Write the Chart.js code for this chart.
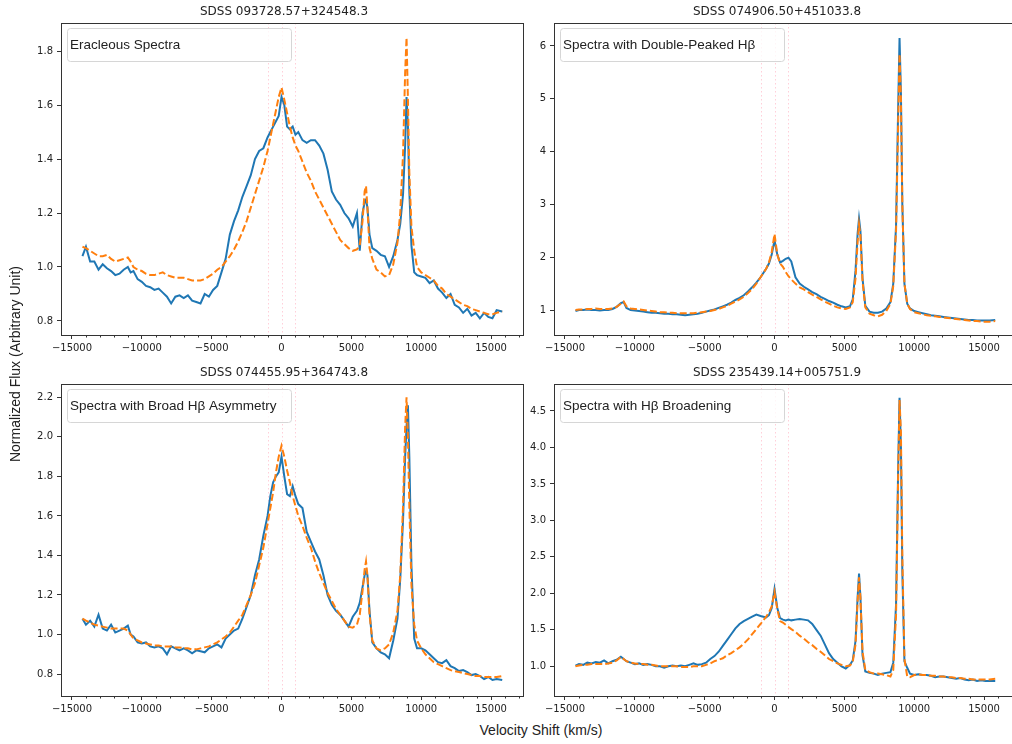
<!DOCTYPE html>
<html>
<head>
<meta charset="utf-8">
<script src="https://cdn.jsdelivr.net/npm/chart.js@4.4.0/dist/chart.umd.min.js"></script>
<style>
    html, body { margin: 0; padding: 0; background: #fff; }
    body { width: 1012px; height: 744px; overflow: hidden; position: relative; }
    canvas { position: absolute; }
    #xLabel { position: absolute; left: 0; width: 1082px; top: 722px; line-height: 20px; text-align: center; font: 14px "Liberation Sans"; color: #222; }
    #yLabel { position: absolute; left: -185px; width: 400px; top: 356px; line-height: 20px; text-align: center; font: 14px "Liberation Sans"; color: #222; transform: rotate(-90deg); }
</style>
</head>
<body>
<canvas id="panel1" width="530" height="360" style="left:0;top:0"></canvas>
<canvas id="panel2" width="530" height="360" style="left:500px;top:0"></canvas>
<canvas id="panel3" width="530" height="360" style="left:0;top:360px"></canvas>
<canvas id="panel4" width="530" height="360" style="left:500px;top:360px"></canvas>
<div id="xLabel">Velocity Shift (km/s)</div>
<div id="yLabel">Normalized Flux (Arbitrary Unit)</div>
<script>
//Velocity grid shared by every spectrum (km/s).
var velocity = [
    -14250, -14000, -13700, -13400, -13100, -12800, -12500, -12200, -11900, -11600,
    -11300, -11000, -10800, -10600, -10300, -10000, -9700, -9400, -9100, -8800,
    -8500, -8200, -7900, -7600, -7300, -7000, -6700, -6400, -6100, -5800,
    -5500, -5200, -4900, -4600, -4300, -4000, -3700, -3400, -3100, -2800,
    -2500, -2200, -1900, -1600, -1300, -1000, -800, -600, -400, -200,
    0, 200, 400, 600, 800, 1000, 1200, 1500, 1800, 2100,
    2400, 2700, 3000, 3300, 3600, 3900, 4200, 4500, 4800, 5100,
    5400, 5600, 5800, 5950, 6050, 6150, 6300, 6500, 6800, 7100,
    7400, 7700, 8000, 8300, 8500, 8700, 8850, 8950, 9050, 9150,
    9300, 9500, 9700, 10000, 10300, 10600, 10900, 11200, 11500, 11800,
    12100, 12400, 12700, 13000, 13300, 13600, 13900, 14200, 14500, 14800,
    15100, 15400, 15800
];

//SDSS 093728.57+324548.3
var observed1 = [
    1.04, 1.075, 1.02, 1.02, 0.99, 1.01, 0.995, 0.985, 0.97, 0.975,
    0.99, 1.0, 0.98, 0.985, 0.955, 0.945, 0.93, 0.925, 0.915, 0.92,
    0.905, 0.89, 0.865, 0.89, 0.895, 0.885, 0.895, 0.875, 0.87, 0.865,
    0.9, 0.89, 0.915, 0.93, 0.98, 1.03, 1.12, 1.17, 1.21, 1.26,
    1.3, 1.34, 1.4, 1.43, 1.44, 1.48, 1.5, 1.52, 1.54, 1.56,
    1.63, 1.6, 1.52, 1.51, 1.52, 1.49, 1.5, 1.47, 1.46, 1.47,
    1.47, 1.45, 1.42, 1.36, 1.28, 1.25, 1.23, 1.2, 1.18, 1.15,
    1.2, 1.06, 1.2, 1.24, 1.25, 1.22, 1.12, 1.07, 1.06, 1.045,
    1.04, 1.0, 1.04, 1.1, 1.16, 1.27, 1.45, 1.63, 1.52, 1.28,
    1.08, 0.98, 0.97, 0.965, 0.96, 0.94, 0.95, 0.92, 0.905, 0.885,
    0.9, 0.86, 0.85, 0.83, 0.845, 0.82, 0.83, 0.81, 0.83, 0.815,
    0.81, 0.84, 0.835
];
var model1 = [
    1.075, 1.07, 1.06, 1.05, 1.04, 1.04, 1.045, 1.03, 1.02, 1.025,
    1.03, 1.035, 1.02, 1.0, 0.99, 0.985, 0.975, 0.97, 0.97, 0.975,
    0.98, 0.97, 0.965, 0.96, 0.96, 0.96, 0.955, 0.95, 0.95, 0.95,
    0.955, 0.965, 0.975, 0.99, 1.0, 1.02, 1.04, 1.065, 1.095, 1.13,
    1.17, 1.22, 1.27, 1.32, 1.37, 1.43, 1.48, 1.53, 1.58, 1.63,
    1.665, 1.62, 1.57, 1.52, 1.48, 1.45, 1.43, 1.39, 1.35, 1.32,
    1.28, 1.25, 1.22, 1.19, 1.16, 1.13, 1.1, 1.085, 1.07, 1.06,
    1.065, 1.08, 1.17, 1.28, 1.3, 1.22, 1.07, 1.03, 0.99, 0.98,
    0.965, 0.97, 1.01, 1.09, 1.2, 1.42, 1.72, 1.85, 1.62, 1.35,
    1.15, 1.06, 1.0, 0.98, 0.97, 0.96, 0.95, 0.93, 0.92, 0.9,
    0.89, 0.88, 0.87, 0.86, 0.855, 0.845, 0.84, 0.835, 0.83, 0.825,
    0.825, 0.83, 0.835
];

//SDSS 074906.50+451033.8
var observed2 = [
    0.98, 1.0, 1.0, 1.01, 1.0, 1.0, 0.99, 1.0, 1.0, 1.02,
    1.06, 1.13, 1.15, 1.04, 1.0, 0.99, 0.98, 0.97, 0.96, 0.95,
    0.95, 0.94, 0.93, 0.93, 0.92, 0.92, 0.91, 0.9, 0.91, 0.92,
    0.93, 0.95, 0.97, 0.99, 1.01, 1.04, 1.07, 1.1, 1.14, 1.19,
    1.23, 1.28, 1.35, 1.43, 1.52, 1.62, 1.7, 1.78, 1.88, 2.05,
    2.32, 2.05, 1.9, 1.93, 1.97, 1.99, 1.92, 1.62, 1.5, 1.44,
    1.39, 1.34, 1.3, 1.25, 1.21, 1.17, 1.14, 1.1, 1.07, 1.05,
    1.07, 1.2, 1.75, 2.45, 2.73, 2.5, 1.6, 1.08, 0.97, 0.95,
    0.95, 0.97, 1.03, 1.15, 1.5, 2.6, 4.8, 6.15, 5.1, 3.0,
    1.5, 1.12, 1.03, 0.98, 0.96, 0.94, 0.92, 0.9, 0.89, 0.88,
    0.87, 0.86, 0.85, 0.84, 0.83, 0.82, 0.81, 0.81, 0.8, 0.8,
    0.8, 0.8, 0.81
];
var model2 = [
    1.0, 1.01, 1.01, 1.02, 1.02, 1.03, 1.02, 1.02, 1.02, 1.03,
    1.06, 1.12, 1.16, 1.07, 1.03, 1.02, 1.01, 1.0, 0.99, 0.98,
    0.97, 0.96, 0.96, 0.95, 0.95, 0.94, 0.94, 0.94, 0.94, 0.94,
    0.95, 0.96, 0.97, 0.98, 1.0, 1.02, 1.05, 1.08, 1.12, 1.16,
    1.2, 1.25, 1.32, 1.4, 1.5, 1.62, 1.7, 1.78, 1.9, 2.1,
    2.44, 2.05, 1.88, 1.82, 1.72, 1.64, 1.58, 1.5, 1.43, 1.39,
    1.34, 1.29, 1.25, 1.2, 1.16, 1.12, 1.08, 1.05, 1.03, 1.02,
    1.05, 1.15, 1.6, 2.3, 2.62, 2.42, 1.55, 1.05, 0.93, 0.9,
    0.88, 0.91, 0.98, 1.12, 1.45, 2.5, 4.5, 5.85, 5.0, 3.0,
    1.5, 1.12, 1.02, 0.96, 0.94, 0.92, 0.9, 0.89, 0.88, 0.87,
    0.86, 0.85, 0.84, 0.83, 0.82, 0.81, 0.8, 0.79, 0.79, 0.78,
    0.78, 0.78, 0.79
];

//SDSS 074455.95+364743.8
var observed3 = [
    1.08, 1.05, 1.07, 1.04, 1.1, 1.03, 1.02, 1.05, 1.01, 1.02,
    1.03, 1.045, 1.0, 0.99, 0.96, 0.955, 0.96, 0.94, 0.935, 0.94,
    0.93, 0.9, 0.94, 0.93, 0.92, 0.93, 0.92, 0.905, 0.92, 0.915,
    0.91, 0.93, 0.94, 0.95, 0.935, 0.98, 1.0, 1.02, 1.03, 1.08,
    1.14, 1.2, 1.3, 1.38, 1.5, 1.6, 1.7, 1.77, 1.8, 1.82,
    1.9, 1.8, 1.71, 1.7, 1.75, 1.7, 1.66, 1.64, 1.52, 1.47,
    1.42, 1.38, 1.3, 1.2, 1.15, 1.12, 1.1, 1.07, 1.04, 1.09,
    1.12, 1.16, 1.24, 1.3, 1.32, 1.3, 1.12, 0.96, 0.93, 0.91,
    0.9, 0.88, 0.97, 1.08, 1.28, 1.58, 1.9, 2.05, 2.16, 1.9,
    1.35, 0.98, 0.93, 0.93, 0.92, 0.9, 0.88, 0.86, 0.855, 0.87,
    0.84, 0.83, 0.815, 0.82, 0.81, 0.795, 0.8, 0.79, 0.775, 0.785,
    0.77, 0.775, 0.77
];
var model3 = [
    1.08, 1.07, 1.06, 1.05, 1.045, 1.04, 1.035, 1.03, 1.03, 1.03,
    1.03, 1.02, 1.0, 0.98, 0.97, 0.96, 0.955, 0.95, 0.945, 0.945,
    0.94, 0.94, 0.94, 0.935, 0.935, 0.93, 0.93, 0.925, 0.925, 0.93,
    0.935, 0.94, 0.95, 0.96, 0.975, 0.99, 1.01, 1.04, 1.07, 1.1,
    1.15, 1.2, 1.26, 1.35, 1.44, 1.56, 1.64, 1.72, 1.82, 1.9,
    1.955, 1.9, 1.83, 1.77, 1.7, 1.65, 1.6, 1.55, 1.49, 1.44,
    1.37, 1.31, 1.26, 1.21, 1.17, 1.13, 1.1, 1.07, 1.04, 1.035,
    1.05, 1.1, 1.22, 1.33, 1.37, 1.3, 1.1, 0.97, 0.93, 0.92,
    0.93, 0.95, 1.01, 1.12, 1.3, 1.65, 2.05, 2.2, 2.0, 1.65,
    1.25, 1.05, 0.97, 0.93, 0.9, 0.88, 0.86, 0.85, 0.84, 0.83,
    0.82, 0.815, 0.81, 0.805, 0.8, 0.795, 0.79, 0.79, 0.785, 0.785,
    0.785, 0.785, 0.79
];

//SDSS 235439.14+005751.9
var observed4 = [
    1.01, 1.03, 1.02, 1.05, 1.04, 1.06, 1.05, 1.08, 1.04, 1.07,
    1.09, 1.13, 1.1, 1.07, 1.05, 1.03, 1.04, 1.02, 1.03, 1.02,
    1.0, 1.0, 0.98, 1.0, 1.01, 1.0, 1.01, 1.0, 1.02, 1.04,
    1.02, 1.03, 1.05, 1.1, 1.14, 1.2, 1.28, 1.36, 1.44, 1.52,
    1.58, 1.62, 1.65, 1.68, 1.71, 1.69, 1.68, 1.67, 1.7, 1.8,
    2.06, 1.8, 1.66, 1.64, 1.63, 1.64, 1.63, 1.64, 1.65, 1.64,
    1.63, 1.58, 1.5, 1.42, 1.3, 1.18, 1.1, 1.05, 1.0, 0.97,
    1.02, 1.08, 1.35, 1.95, 2.27, 1.95, 1.15, 0.93, 0.91, 0.9,
    0.88, 0.9, 0.91, 0.92, 1.05, 1.85, 3.7, 4.68, 4.0, 2.3,
    1.07, 0.98, 0.9, 0.88, 0.89, 0.88, 0.88, 0.87, 0.85, 0.86,
    0.86, 0.85, 0.84, 0.83, 0.84, 0.82, 0.81, 0.82, 0.8, 0.81,
    0.8, 0.8, 0.8
];
var model4 = [
    1.0, 1.01, 1.02, 1.02, 1.03, 1.03, 1.03, 1.03, 1.04, 1.05,
    1.08, 1.13, 1.1, 1.07, 1.05, 1.04, 1.03, 1.03, 1.02, 1.02,
    1.01, 1.0, 1.0, 1.0, 1.0, 1.0, 0.99, 0.99, 0.99, 1.0,
    1.0, 1.0, 1.02, 1.04, 1.07, 1.09, 1.11, 1.15, 1.18, 1.22,
    1.26, 1.31, 1.37, 1.44, 1.51, 1.58, 1.63, 1.68, 1.74, 1.82,
    2.02, 1.78, 1.62, 1.6, 1.57, 1.54, 1.51, 1.47, 1.42, 1.38,
    1.33, 1.29, 1.24, 1.2, 1.15, 1.1, 1.07, 1.04, 1.02, 1.0,
    1.01, 1.06, 1.3, 1.9, 2.22, 1.95, 1.2, 0.95, 0.92, 0.9,
    0.9, 0.89, 0.88, 0.86, 0.95, 1.7, 3.6, 4.65, 4.2, 2.5,
    1.1, 0.86, 0.85, 0.88, 0.89, 0.88, 0.88, 0.87, 0.87, 0.86,
    0.86, 0.85, 0.85, 0.84, 0.84, 0.83, 0.83, 0.82, 0.82, 0.82,
    0.82, 0.82, 0.83
];

//Tick labels.
var velocityTicks = [-15000, -10000, -5000, 0, 5000, 10000, 15000];
var fluxTicks1 = [0.8, 1.0, 1.2, 1.4, 1.6, 1.8];
var fluxTicks2 = [1, 2, 3, 4, 5, 6];
var fluxTicks3 = [0.8, 1.0, 1.2, 1.4, 1.6, 1.8, 2.0, 2.2];
var fluxTicks4 = [1.0, 1.5, 2.0, 2.5, 3.0, 3.5, 4.0, 4.5];

//Dotted reference lines around the H-beta rest velocity.
var referenceVelocities = [-1000, 0, 1000];

var X_MIN = -15786;
var X_MAX = 17287;

function toPoints(xs, ys) {
    var points = [];
    for (let i = 0; i < xs.length; i++) {
        points.push({ x: xs[i], y: ys[i] });
    }
    return points;
}

function formatVelocity(value) {
    if (value < 0) {
        return '\u2212' + Math.abs(value);
    }
    return String(value);
}

//Draws the matplotlib-like frame, title, legend box, minor ticks and reference lines.
var panelDecor = {
    id: 'panelDecor',
    beforeDatasetsDraw: function (chart) {
        var ctx = chart.ctx;
        var area = chart.chartArea;
        var xScale = chart.scales.x;

        ctx.save();
        ctx.strokeStyle = 'rgba(255, 160, 180, 0.5)';
        ctx.lineWidth = 1;
        ctx.setLineDash([1.5, 2.5]);
        referenceVelocities.forEach(function (v) {
            var px = Math.round(xScale.getPixelForValue(v)) + 0.5;
            ctx.beginPath();
            ctx.moveTo(px, area.top);
            ctx.lineTo(px, area.bottom);
            ctx.stroke();
        });
        ctx.restore();
    },
    afterDatasetsDraw: function (chart, args, options) {
        var ctx = chart.ctx;
        var area = chart.chartArea;
        var bx = area.left + 6.5;
        var by = area.top + 5.5;
        var bw = 224;
        var bh = 33;
        var r = 3;

        ctx.save();
        ctx.beginPath();
        ctx.moveTo(bx + r, by);
        ctx.lineTo(bx + bw - r, by);
        ctx.quadraticCurveTo(bx + bw, by, bx + bw, by + r);
        ctx.lineTo(bx + bw, by + bh - r);
        ctx.quadraticCurveTo(bx + bw, by + bh, bx + bw - r, by + bh);
        ctx.lineTo(bx + r, by + bh);
        ctx.quadraticCurveTo(bx, by + bh, bx, by + bh - r);
        ctx.lineTo(bx, by + r);
        ctx.quadraticCurveTo(bx, by, bx + r, by);
        ctx.closePath();
        ctx.fillStyle = 'rgba(255, 255, 255, 0.8)';
        ctx.fill();
        ctx.strokeStyle = '#d6d6d6';
        ctx.lineWidth = 1;
        ctx.stroke();

        ctx.fillStyle = '#222';
        ctx.font = '13.5px "Liberation Sans"';
        ctx.textAlign = 'left';
        ctx.textBaseline = 'middle';
        ctx.fillText(options.legend, bx + 2.5, by + bh / 2 + 0.5);
        ctx.restore();
    },
    afterDraw: function (chart, args, options) {
        var ctx = chart.ctx;
        var area = chart.chartArea;
        var xScale = chart.scales.x;

        ctx.save();

        //Frame around the plot area.
        ctx.strokeStyle = '#333';
        ctx.lineWidth = 1;
        ctx.strokeRect(Math.round(area.left) + 0.5, Math.round(area.top) + 0.5,
            Math.round(area.right - area.left), Math.round(area.bottom - area.top));

        //Minor ticks every 1000 km/s.
        for (let v = -15000; v <= 17000; v += 1000) {
            if (v % 5000 === 0) {
                continue;
            }
            var px = Math.round(xScale.getPixelForValue(v)) + 0.5;
            if (px < area.left || px > area.right) {
                continue;
            }
            ctx.beginPath();
            ctx.moveTo(px, area.bottom);
            ctx.lineTo(px, area.bottom + 2.5);
            ctx.stroke();
        }

        //Panel title.
        ctx.fillStyle = '#222';
        ctx.font = '12px "DejaVu Sans"';
        ctx.textAlign = 'center';
        ctx.textBaseline = 'middle';
        ctx.fillText(options.title, area.left + 223, area.top - 11);

        ctx.restore();
    }
};

function buildPanel(canvasId, title, legendText, observed, model, yMin, yMax, yTicks, yDecimals, yAxisWidth, padTop, padRight, xAxisHeight) {
    var canvas = document.getElementById(canvasId);

    return new Chart(canvas, {
        type: 'line',
        data: {
            datasets: [
                {
                    label: 'Observed',
                    data: toPoints(velocity, observed),
                    borderColor: '#1f77b4',
                    borderWidth: 2,
                    pointRadius: 0,
                    fill: false,
                    order: 1
                },
                {
                    label: 'Model',
                    data: toPoints(velocity, model),
                    borderColor: '#ff7f0e',
                    borderWidth: 2,
                    borderDash: [7, 3],
                    pointRadius: 0,
                    fill: false,
                    order: 0
                }
            ]
        },
        options: {
            responsive: false,
            animation: false,
            layout: {
                padding: { top: padTop, right: padRight, left: 0, bottom: 0 }
            },
            plugins: {
                legend: { display: false },
                tooltip: { enabled: false },
                panelDecor: { title: title, legend: legendText }
            },
            scales: {
                x: {
                    type: 'linear',
                    min: X_MIN,
                    max: X_MAX,
                    afterFit: function (scale) {
                        scale.height = xAxisHeight;
                    },
                    afterBuildTicks: function (scale) {
                        scale.ticks = velocityTicks.map(function (v) { return { value: v }; });
                    },
                    ticks: {
                        autoSkip: false,
                        maxRotation: 0,
                        padding: 3,
                        color: '#222',
                        font: { family: 'DejaVu Sans', size: 10 },
                        callback: formatVelocity
                    },
                    grid: {
                        drawOnChartArea: false,
                        tickLength: 4,
                        color: '#333',
                        lineWidth: 1
                    },
                    border: { display: false }
                },
                y: {
                    type: 'linear',
                    min: yMin,
                    max: yMax,
                    afterFit: function (scale) {
                        scale.width = yAxisWidth;
                    },
                    afterBuildTicks: function (scale) {
                        scale.ticks = yTicks.map(function (v) { return { value: v }; });
                    },
                    ticks: {
                        autoSkip: false,
                        padding: 4,
                        color: '#222',
                        font: { family: 'DejaVu Sans', size: 10 },
                        callback: function (value) {
                            return Number(value).toFixed(yDecimals);
                        }
                    },
                    grid: {
                        drawOnChartArea: false,
                        tickLength: 4,
                        color: '#333',
                        lineWidth: 1
                    },
                    border: { display: false }
                }
            }
        },
        plugins: [panelDecor]
    });
}

function initCharts() {
    buildPanel('panel1', 'SDSS 093728.57+324548.3', 'Eracleous Spectra',
        observed1, model1, 0.748, 1.904, fluxTicks1, 1, 61, 23, 7, 25);

    buildPanel('panel2', 'SDSS 074906.50+451033.8', 'Spectra with Double-Peaked H\u03b2',
        observed2, model2, 0.527, 6.435, fluxTicks2, 0, 54, 23, 14, 25);

    buildPanel('panel3', 'SDSS 074455.95+364743.8', 'Spectra with Broad H\u03b2 Asymmetry',
        observed3, model3, 0.689, 2.2675, fluxTicks3, 1, 61, 24, 7, 24);

    buildPanel('panel4', 'SDSS 235439.14+005751.9', 'Spectra with H\u03b2 Broadening',
        observed4, model4, 0.593, 4.87, fluxTicks4, 1, 54, 24, 14, 24);
}

initCharts();
</script>
</body>
</html>
